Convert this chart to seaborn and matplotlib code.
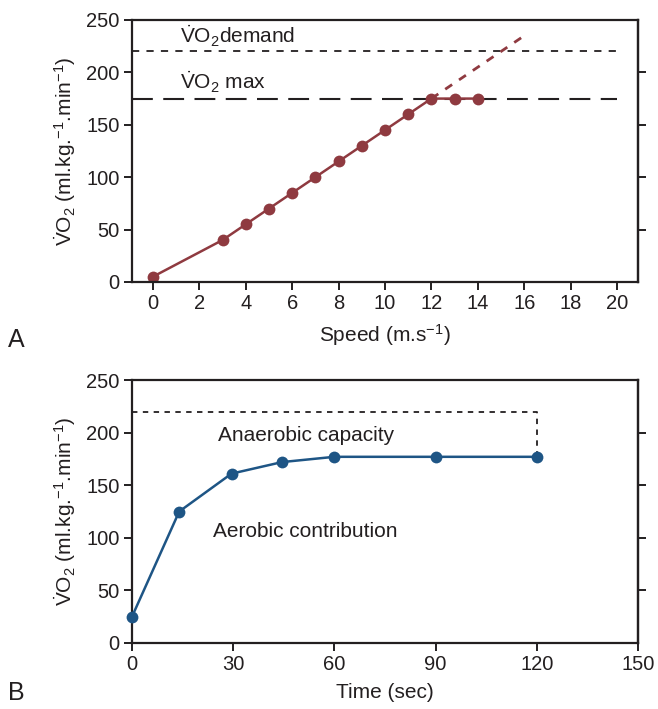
import matplotlib
matplotlib.use("Agg")
import matplotlib.pyplot as plt
import seaborn as sns
import pandas as pd

# ---- data ----
speed = [0, 3, 4, 5, 6, 7, 8, 9, 10, 11, 12, 13, 14]
vo2_speed = [5, 40, 55, 70, 85, 100, 115, 130, 145, 160, 175, 175, 175]
extrap_speed = [12, 16]
extrap_vo2 = [175, 235]
vo2_demand = 220
vo2_max = 175

time_s = [0, 14, 29.5, 44.5, 60, 90, 120]
vo2_time = [25, 125, 161, 172, 177, 177, 177]

xticks_a = [0, 2, 4, 6, 8, 10, 12, 14, 16, 18, 20]
xticks_b = [0, 30, 60, 90, 120, 150]
yticks = [0, 50, 100, 150, 200, 250]
right_ticks = [50, 100, 150, 200]

RED = "#8f3a40"
BLUE = "#1e5585"
DARK = "#231f20"

sns.set_style("ticks")
plt.rcParams["font.family"] = ["Liberation Sans", "DejaVu Sans"]
plt.rcParams["mathtext.fontset"] = "custom"
plt.rcParams["mathtext.rm"] = "Liberation Sans"
plt.rcParams["mathtext.it"] = "Liberation Sans:italic"
plt.rcParams["mathtext.bf"] = "Liberation Sans:bold"

FS = 15
TFS = 14.5
fig = plt.figure(figsize=(6.58, 7.09), dpi=100)
axA = fig.add_axes([0.2006, 0.6023, 0.7690, 0.3695])
axB = fig.add_axes([0.2006, 0.0931, 0.7690, 0.3709])

ylab = r"$\dot{\mathrm{V}}\mathrm{O}_2$ (ml.kg.$^{-1}$.min$^{-1}$)"

def style(ax):
    for s in ax.spines.values():
        s.set_linewidth(1.6)
        s.set_color(DARK)
    ax.tick_params(axis="both", which="both", direction="out", length=6, width=1.4,
                   labelsize=TFS, colors=DARK, pad=3)
    ax.set_ylim(0, 250)
    ax.set_yticks(yticks)
    ax.set_ylabel(ylab, fontsize=FS, color=DARK, labelpad=6)
    sec = ax.secondary_yaxis("right")
    sec.set_yticks(right_ticks)
    sec.set_yticklabels([])
    sec.spines["right"].set_linewidth(1.6)
    sec.spines["right"].set_color(DARK)
    sec.tick_params(axis="y", direction="out", length=6, width=1.4, colors=DARK)

# ---- panel A ----
dfA = pd.DataFrame({"speed": speed, "vo2": vo2_speed})
frac = (20 - (-0.9)) / (20.9 - (-0.9))
axA.axhline(vo2_demand, xmin=0, xmax=frac, color=DARK, lw=1.3, dashes=(4, 4))
axA.axhline(vo2_max, xmin=0, xmax=frac, color=DARK, lw=1.5, dashes=(10, 5))
sns.lineplot(x=extrap_speed, y=extrap_vo2, ax=axA, color=RED, lw=2)
axA.lines[-1].set_dashes((3, 3))
sns.lineplot(data=dfA, x="speed", y="vo2", ax=axA, color=RED, lw=1.8,
             marker="o", markersize=8.5, markeredgewidth=0)
axA.set_xlim(-0.9, 20.9)
axA.set_xticks(xticks_a)
style(axA)
axA.set_xlabel(r"Speed (m.s$^{-1}$)", fontsize=FS, color=DARK, labelpad=6)
axA.text(1.15, 234, r"$\dot{\mathrm{V}}\mathrm{O}_2$demand", fontsize=FS, color=DARK, va="center")
axA.text(1.15, 190, r"$\dot{\mathrm{V}}\mathrm{O}_2$ max", fontsize=FS, color=DARK, va="center")

# ---- panel B ----
dfB = pd.DataFrame({"time": time_s, "vo2": vo2_time})
axB.plot([0, 120, 120], [vo2_demand, vo2_demand, vo2_time[-1]], color=DARK,
         lw=1.3, dashes=(3, 3))
sns.lineplot(data=dfB, x="time", y="vo2", ax=axB, color=BLUE, lw=1.8,
             marker="o", markersize=8.5, markeredgewidth=0, clip_on=False, zorder=5)
axB.set_xlim(0, 150)
axB.set_xticks(xticks_b)
style(axB)
axB.set_xlabel("Time (sec)", fontsize=FS, color=DARK, labelpad=6)
axB.text(51.5, 197, "Anaerobic capacity", fontsize=FS, color=DARK, ha="center", va="center")
axB.text(51.5, 106, "Aerobic contribution", fontsize=FS, color=DARK, ha="center", va="center")

fig.text(0.012, 1 - 340 / 709, "A", fontsize=18, color=DARK, va="center")
fig.text(0.012, 1 - 693 / 709, "B", fontsize=18, color=DARK, va="center")

fig.savefig("out.png", dpi=100)
